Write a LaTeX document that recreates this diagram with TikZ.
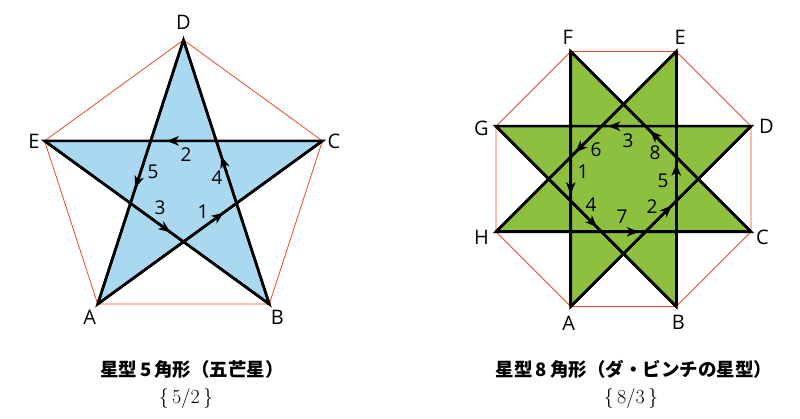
\documentclass[tikz,border=0pt]{standalone}
\usepackage{fontspec}
\setsansfont{Open Sans}
\newfontfamily\jpfont{Noto Sans CJK JP}
\usetikzlibrary{arrows.meta,decorations.markings,positioning}

\definecolor{starblue}{RGB}{170,216,240}
\definecolor{stargreen}{RGB}{141,192,62}
\definecolor{rimred}{RGB}{232,72,44}

\begin{document}
\begin{tikzpicture}[x=1pt,y=-1pt,
		rim/.style={draw=rimred,line width=0.8pt},
		star line/.style={draw=black,line width=2.6pt,line join=miter},
		walk/.style={draw=black,line width=2.6pt,postaction={decorate},
			decoration={markings,mark=at position 0.56 with {\arrow{Stealth[length=12pt,width=9.5pt,inset=3.5pt]}}}},
		vertex/.style={font=\sffamily\fontsize{20}{22}\selectfont,inner sep=0pt},
		stepno/.style={font=\sffamily\fontsize{19}{21}\selectfont,inner sep=0pt},
		caption/.style={font=\jpfont\bfseries\fontsize{18.5}{23}\selectfont,inner sep=0pt},
		symbol/.style={font=\fontsize{20}{24}\selectfont,inner sep=0pt}]
		
		\useasboundingbox (0,0) rectangle (800,419);
		
		% pentagon {5/2}
		\coordinate (pA) at (97.7,304.1);
		\coordinate (pB) at (269.3,304.1);
		\coordinate (pC) at (322.4,140.9);
		\coordinate (pD) at (183.5,40);
		\coordinate (pE) at (44.6,140.9);
		
		\draw[rim] (pA) -- (pB) -- (pC) -- (pD) -- (pE) -- cycle;
		\draw[star line,fill=starblue] (pA) -- (pC) -- (pE) -- (pB) -- (pD) -- cycle;
		\foreach \s/\t in {pA/pC,pC/pE,pE/pB,pB/pD,pD/pA}
			\draw[walk] (\s) -- (\t);
		
		\node[vertex,above=10pt of pD] (lpD) {D};
		\node[vertex,left=5pt of pE] (lpE) {E};
		\node[vertex,right=5pt of pC] (lpC) {C};
		\node[vertex,below=6pt of pA,xshift=-8pt] (lpA) {A};
		\node[vertex,below=6pt of pB,xshift=8pt] (lpB) {B};
		
		\foreach \n/\x/\y in {1/203/212,2/186/155,3/160/208,4/217/178,5/153/172}
			\node[stepno] (p\n) at (\x,\y) {\n};
		
		% octagon {8/3}
		\coordinate (oA) at (570.7,306.5);
		\coordinate (oB) at (676.3,306.5);
		\coordinate (oC) at (751,231.8);
		\coordinate (oD) at (751,126.2);
		\coordinate (oE) at (676.3,51.5);
		\coordinate (oF) at (570.7,51.5);
		\coordinate (oG) at (496,126.2);
		\coordinate (oH) at (496,231.8);
		
		\draw[rim] (oA) -- (oB) -- (oC) -- (oD) -- (oE) -- (oF) -- (oG) -- (oH) -- cycle;
		\draw[star line,fill=stargreen] (oF) -- (oA) -- (oD) -- (oG) -- (oB) -- (oE) -- (oH) -- (oC) -- cycle;
		\foreach \s/\t in {oF/oA,oA/oD,oD/oG,oG/oB,oB/oE,oE/oH,oH/oC,oC/oF}
			\draw[walk] (\s) -- (\t);
		
		\node[vertex,above=7pt of oF,xshift=-3pt] (loF) {F};
		\node[vertex,above=7pt of oE,xshift=4pt] (loE) {E};
		\node[vertex,right=8pt of oD] (loD) {D};
		\node[vertex,right=5pt of oC,yshift=-6pt] (loC) {C};
		\node[vertex,left=7pt of oG,yshift=-2pt] (loG) {G};
		\node[vertex,left=7pt of oH,yshift=-6pt] (loH) {H};
		\node[vertex,below=9pt of oA,xshift=-2pt] (loA) {A};
		\node[vertex,below=9pt of oB,xshift=2pt] (loB) {B};
		
		\foreach \n/\x/\y in {1/583/172,2/652/207,3/628/141,4/591/205,5/663/181,6/596/150,7/622/217,8/655/153}
			\node[stepno] (o\n) at (\x,\y) {\n};
		
		% captions
		\node[caption] (cap5) at (192,369) {星型\,5\,角形（五芒星）};
		\node[symbol] (sym5) at (186,398) {\{\,5/2\,\}};
		\node[caption] (cap8) at (634,369) {星型\,8\,角形（ダ・ビンチの星型）};
		\node[symbol] (sym8) at (631,398) {\{\,8/3\,\}};
\end{tikzpicture}
\end{document}
